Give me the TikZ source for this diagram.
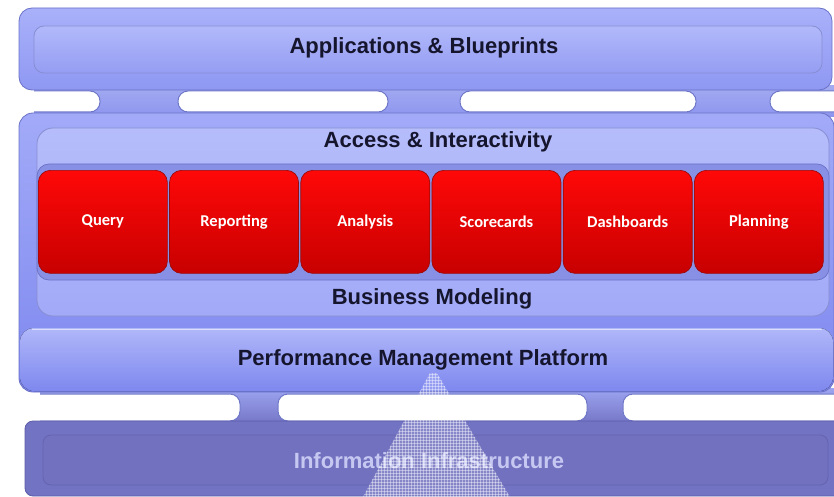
\documentclass[tikz,border=0pt]{standalone}
\usepackage{fontspec}
\setmainfont{Liberation Sans}
\newfontfamily\boxfont{Carlito}
\usetikzlibrary{patterns,shadows}
\definecolor{bandtop}{HTML}{A9B1FA}
\definecolor{bandbot}{HTML}{8F98F2}
\definecolor{midtop}{HTML}{A2AAF8}
\definecolor{midbot}{HTML}{7E88EE}
\definecolor{neck}{HTML}{8C95EE}
\definecolor{slotedge}{HTML}{6F78C8}
\definecolor{infra}{HTML}{7373C4}
\definecolor{infrain}{HTML}{7171BF}
\definecolor{infraedge}{HTML}{5C5CA8}
\definecolor{infratext}{HTML}{C6C8F2}
\definecolor{titletext}{HTML}{15152E}
\definecolor{redtop}{HTML}{FF0808}
\definecolor{redbot}{HTML}{C80000}
\definecolor{rededge}{HTML}{9A0A0A}
\definecolor{edge}{HTML}{6A72C8}
\tikzset{
  band/.style={rounded corners=13pt, top color=bandtop, bottom color=bandbot, draw=edge, line width=0.8pt},
  midband/.style={rounded corners=14pt, top color=midtop, bottom color=midbot, draw=edge, line width=0.8pt},
  innerbox/.style={rounded corners=10pt, draw=edge!80, line width=0.8pt},
  slot/.style={fill=white, draw=slotedge, line width=1pt, rounded corners=10pt},
  title/.style={font=\bfseries\fontsize{22}{25}\selectfont, text=titletext, inner sep=0pt},
  redbox/.style={rounded corners=12pt, top color=redtop, bottom color=redbot, draw=rededge, line width=0.7pt,
     minimum width=129pt, minimum height=103pt, inner sep=0pt, anchor=north west,
     font=\boxfont\bfseries\fontsize{16.5}{19}\selectfont, text=white},
}
\begin{document}
\begin{tikzpicture}[x=1pt,y=-1pt]
\useasboundingbox (0,0) rectangle (834,497);
% gap 1 necks
\begin{scope}
\clip (34,86) rectangle (834,117);
\fill[top color=neck!80!white, bottom color=neck] (34,86) rectangle (834,117);
\draw[slot] (-20,91) rectangle (100,112);
\draw[slot] (178,91) rectangle (388,112);
\draw[slot] (460,91) rectangle (696,112);
\draw[slot] (770,91) rectangle (860,112);
\end{scope}
% gap 2 necks
\begin{scope}
\clip (40,388) rectangle (834,425);
\fill[top color=neck!85!white, bottom color=infra] (40,388) rectangle (834,425);
\draw[slot] (-20,394) rectangle (240,421);
\draw[slot] (278,394) rectangle (587,421);
\draw[slot] (623,394) rectangle (860,421);
\end{scope}
% top band
\draw[band] (19,8) rectangle (832,90);
\draw[innerbox, top color=bandtop!90!white, bottom color=bandbot!95!white] (34,26) rectangle (822,73);
\node[title] (apps) at (424,48) {Applications \& Blueprints};
% middle band
\draw[midband] (19,113) rectangle (834,392);
\fill[rounded corners=14pt, top color=midtop!85!white, bottom color=midbot] (20,328) rectangle (833,391);
\draw[white!60!midtop, line width=1pt] (32,329) -- (822,329);
\draw[rounded corners=16pt, top color=bandtop!85!white, bottom color=midtop, draw=edge!80, line width=0.8pt] (37,128) rectangle (829,316);
\draw[rounded corners=12pt, fill=bandbot!95!black, draw=edge, line width=0.7pt] (37,164) rectangle (829,280);
\node[title] (access) at (438,142) {Access \& Interactivity};
\node[title] (bm) at (432,299) {Business Modeling};
\node[title] (pmp) at (423,360) {Performance Management Platform};
% red boxes
\node[redbox] (q) at (38,170) {Query};
\node[redbox] (r) at (169.2,170) {Reporting};
\node[redbox] (a) at (300.4,170) {Analysis};
\node[redbox] (s) at (431.6,170) {Scorecards};
\node[redbox] (d) at (562.8,170) {Dashboards};
\node[redbox] (p) at (694,170) {Planning};
% bottom band
\draw[rounded corners=8pt, fill=infra, draw=infraedge, line width=0.8pt] (25,421) rectangle (850,496);
\draw[rounded corners=8pt, fill=infrain, draw=infraedge!70!infra, line width=0.8pt] (43,435) rectangle (828,485);
\node[title, text=infratext] (info) at (429,461) {Information Infrastructure};
% pattern triangle
\fill[white, opacity=0.15] (430,373) -- (437,373) -- (510,497) -- (363,497) -- cycle;
\fill[pattern=grid, pattern color=white, opacity=0.4] (430,373) -- (437,373) -- (510,497) -- (363,497) -- cycle;
\end{tikzpicture}
\end{document}
